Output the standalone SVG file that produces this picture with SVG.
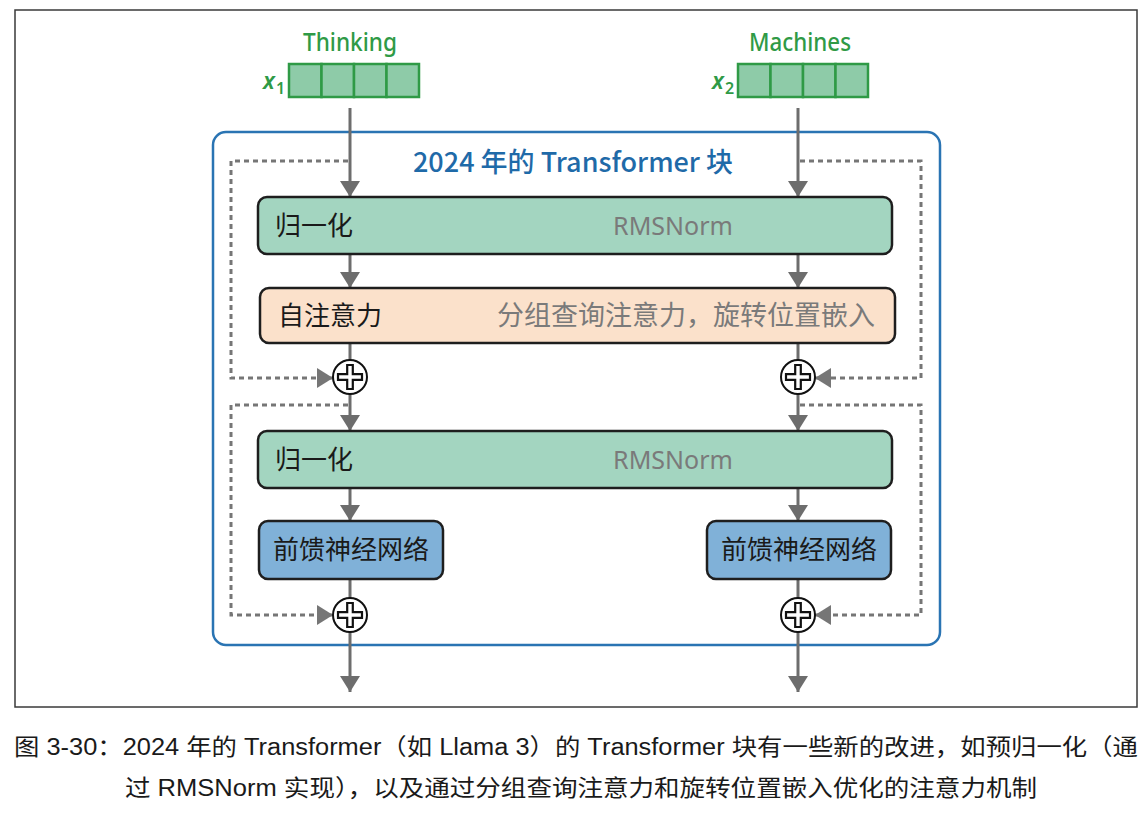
<svg xmlns="http://www.w3.org/2000/svg" width="1148" height="813" viewBox="0 0 1148 813">
<defs>
<style>
.frame{fill:none;stroke:#3a3a3a;stroke-width:1.5}
.block{fill:none;stroke:#2a74b3;stroke-width:2.5}
.norm{fill:#a3d5c0;stroke:#1e1e1e;stroke-width:2.5}
.attn{fill:#fbe1cb;stroke:#1e1e1e;stroke-width:2.5}
.ffn{fill:#80b1d8;stroke:#1e1e1e;stroke-width:2.5}
.cell{fill:#8ecba8;stroke:#2f9a46;stroke-width:2.5}
.flow{fill:none;stroke:#6d6d6d;stroke-width:3}
.res{fill:none;stroke:#767676;stroke-width:3;stroke-dasharray:5 4}
.circ{fill:#fff;stroke:#111;stroke-width:2}
.plus{fill:#fff;stroke:#111;stroke-width:2.2}
.lab{font-family:"Noto Sans CJK SC","Noto Sans",sans-serif;font-size:26px;fill:#1a1a1a}
.sub{font-family:"Noto Sans CJK SC","Noto Sans",sans-serif;font-size:27px;fill:#7a7a7a}
.subl{font-family:"Noto Sans","Noto Sans CJK SC",sans-serif;font-size:25px;fill:#7a7a7a;text-anchor:middle}
.word{font-family:"Noto Sans","Noto Sans CJK SC",sans-serif;font-size:25px;font-weight:500;fill:#2f9a46;text-anchor:middle}
.xv{font-family:"Noto Sans",sans-serif;font-style:italic;font-weight:600;font-size:23px;fill:#2f9a46}
.xs{font-family:"Noto Sans",sans-serif;font-weight:600;font-size:16px;fill:#2f9a46}
.title{font-family:"Noto Sans CJK SC","Noto Sans",sans-serif;font-size:27px;font-weight:500;fill:#1f6aa8;text-anchor:middle}
.cap{font-family:"Liberation Sans","Noto Sans CJK SC",sans-serif;font-size:23px;fill:#1a1a1a}
</style>
<marker id="ah" viewBox="0 0 16 20" refX="16" refY="10" markerWidth="16" markerHeight="20" markerUnits="userSpaceOnUse" orient="auto">
<path d="M0,0 L16,10 L0,20 z" fill="#6d6d6d"/>
</marker>
<marker id="ahr" viewBox="0 0 16 20" refX="16" refY="10" markerWidth="16" markerHeight="20" markerUnits="userSpaceOnUse" orient="auto">
<path d="M0,0 L16,10 L0,20 z" fill="#767676"/>
</marker>
<g id="plusSym">
<circle class="circ" cx="0" cy="0" r="17"/>
<path class="plus" d="M-2.8,-12 H2.8 V-2.8 H12 V2.8 H2.8 V12 H-2.8 V2.8 H-12 V-2.8 H-2.8 Z"/>
</g>
</defs>

<rect x="15" y="10" width="1122" height="697" fill="#fff"/>
<rect class="frame" x="15" y="10" width="1122" height="697"/>

<g id="block-frame">
<rect class="block" x="213" y="132" width="727" height="513" rx="13"/>
<text class="title" x="573" y="172">2024 年的 Transformer 块</text>
</g>

<g id="input-x1">
<text class="word" x="350" y="51" textLength="94" lengthAdjust="spacingAndGlyphs">Thinking</text>
<text class="xv" x="263" y="89">x</text><text class="xs" x="276" y="94">1</text>
<rect class="cell" x="289" y="64" width="32.5" height="33"/>
<rect class="cell" x="321.5" y="64" width="32.5" height="33"/>
<rect class="cell" x="354" y="64" width="32.5" height="33"/>
<rect class="cell" x="386.5" y="64" width="32.5" height="33"/>
</g>

<g id="input-x2">
<text class="word" x="800" y="51" textLength="102" lengthAdjust="spacingAndGlyphs">Machines</text>
<text class="xv" x="712" y="89">x</text><text class="xs" x="725" y="94">2</text>
<rect class="cell" x="738" y="64" width="32.5" height="33"/>
<rect class="cell" x="770.5" y="64" width="32.5" height="33"/>
<rect class="cell" x="803" y="64" width="32.5" height="33"/>
<rect class="cell" x="835.5" y="64" width="32.5" height="33"/>
</g>

<g id="connectors">
<path class="flow" d="M350,108 V197" marker-end="url(#ah)"/>
<path class="flow" d="M798,108 V197" marker-end="url(#ah)"/>
<path class="flow" d="M350,254 V288" marker-end="url(#ah)"/>
<path class="flow" d="M798,254 V288" marker-end="url(#ah)"/>
<path class="flow" d="M350,343 V360"/>
<path class="flow" d="M798,343 V360"/>
<path class="flow" d="M350,394 V431" marker-end="url(#ah)"/>
<path class="flow" d="M798,394 V431" marker-end="url(#ah)"/>
<path class="flow" d="M350,488 V521" marker-end="url(#ah)"/>
<path class="flow" d="M798,488 V521" marker-end="url(#ah)"/>
<path class="flow" d="M350,579 V598"/>
<path class="flow" d="M798,579 V598"/>
<path class="flow" d="M350,632 V692" marker-end="url(#ah)"/>
<path class="flow" d="M798,632 V692" marker-end="url(#ah)"/>
<path class="res" d="M348,161 H231 V378 H333" marker-end="url(#ahr)"/>
<path class="res" d="M800,161 H921 V378 H815" marker-end="url(#ahr)"/>
<path class="res" d="M348,405 H231 V615 H333" marker-end="url(#ahr)"/>
<path class="res" d="M800,405 H921 V615 H815" marker-end="url(#ahr)"/>
</g>

<g id="norm1">
<rect class="norm" x="258" y="197" width="634" height="57" rx="9"/>
<text class="lab" x="275" y="235">归一化</text>
<text class="subl" x="673" y="235">RMSNorm</text>
</g>

<g id="attention">
<rect class="attn" x="260" y="288" width="635" height="55" rx="9"/>
<text class="lab" x="278" y="325">自注意力</text>
<text class="sub" x="875" y="325" text-anchor="end">分组查询注意力，旋转位置嵌入</text>
</g>

<g id="add1-left"><use href="#plusSym" x="350" y="377"/></g>
<g id="add1-right"><use href="#plusSym" x="798" y="377"/></g>

<g id="norm2">
<rect class="norm" x="258" y="431" width="634" height="57" rx="9"/>
<text class="lab" x="275" y="469">归一化</text>
<text class="subl" x="673" y="469">RMSNorm</text>
</g>

<g id="ffn-left">
<rect class="ffn" x="259" y="521" width="184" height="58" rx="9"/>
<text class="lab" x="351" y="559" text-anchor="middle">前馈神经网络</text>
</g>
<g id="ffn-right">
<rect class="ffn" x="707" y="521" width="184" height="58" rx="9"/>
<text class="lab" x="799" y="559" text-anchor="middle">前馈神经网络</text>
</g>

<g id="add2-left"><use href="#plusSym" x="350" y="615"/></g>
<g id="add2-right"><use href="#plusSym" x="798" y="615"/></g>

<g id="caption">
<text class="cap" x="14" y="755" textLength="1124" lengthAdjust="spacingAndGlyphs">图 3-30：2024 年的 Transformer（如 Llama 3）的 Transformer 块有一些新的改进，如预归一化（通</text>
<text class="cap" x="125" y="796" textLength="912" lengthAdjust="spacingAndGlyphs">过 RMSNorm 实现），以及通过分组查询注意力和旋转位置嵌入优化的注意力机制</text>
</g>
</svg>
